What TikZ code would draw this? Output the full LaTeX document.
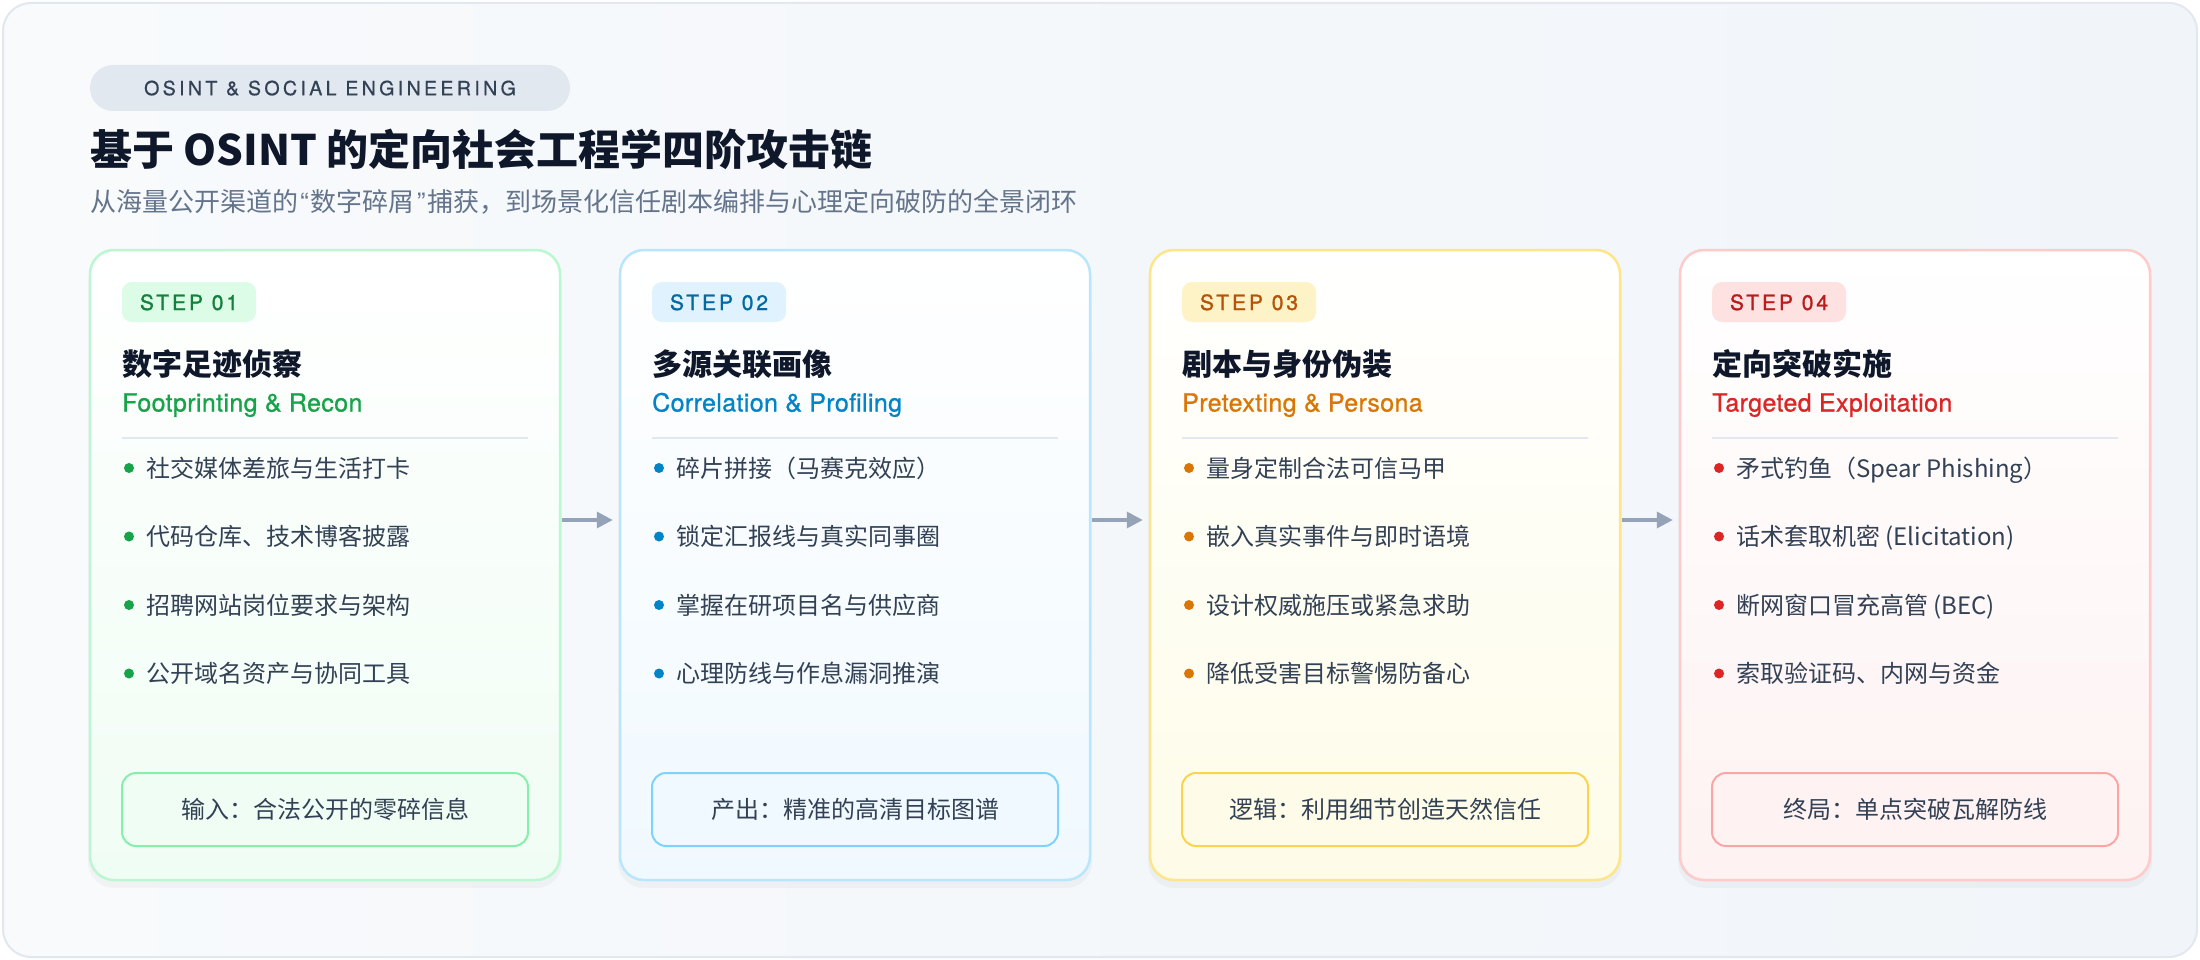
\documentclass[tikz,border=0pt]{standalone}
\usepackage{fontspec}
\setmainfont{Noto Sans CJK SC}
\newfontfamily\latinfont{TeX Gyre Heros}
\newfontfamily\pillfont{TeX Gyre Heros}[LetterSpace=17,FakeBold=0.6]
\newfontfamily\badgefont{TeX Gyre Heros}[LetterSpace=14,FakeBold=1.3]
\newfontfamily\medlatin{TeX Gyre Heros}[LetterSpace=1.5,FakeBold=0.9]
\usetikzlibrary{arrows.meta}

\definecolor{panelA}{HTML}{F8FAFC}
\definecolor{panelB}{HTML}{F1F5F9}
\definecolor{panelBorder}{HTML}{E2E8F0}
\definecolor{pillfill}{HTML}{E2E8F0}
\definecolor{pilltext}{HTML}{334155}
\definecolor{ink}{HTML}{0F172A}
\definecolor{subink}{HTML}{64748B}
\definecolor{bodyink}{HTML}{334155}
\definecolor{sepline}{HTML}{E2E8F0}
\definecolor{arrowgray}{HTML}{94A3B8}
% green
\definecolor{gBorder}{HTML}{BBF7D0}\definecolor{gBadge}{HTML}{DCFCE7}
\definecolor{gBadgeText}{HTML}{15803D}\definecolor{gAccent}{HTML}{16A34A}
\definecolor{gBox}{HTML}{86EFAC}\definecolor{gTint}{HTML}{F0FDF4}
% blue
\definecolor{bBorder}{HTML}{BAE6FD}\definecolor{bBadge}{HTML}{E0F2FE}
\definecolor{bBadgeText}{HTML}{0369A1}\definecolor{bAccent}{HTML}{0284C7}
\definecolor{bBox}{HTML}{7DD3FC}\definecolor{bTint}{HTML}{F0F9FF}
% amber
\definecolor{aBorder}{HTML}{FDE68A}\definecolor{aBadge}{HTML}{FEF3C7}
\definecolor{aBadgeText}{HTML}{B45309}\definecolor{aAccent}{HTML}{D97706}
\definecolor{aBox}{HTML}{FCD34D}\definecolor{aTint}{HTML}{FEFCE8}
% red
\definecolor{rBorder}{HTML}{FECACA}\definecolor{rBadge}{HTML}{FEE2E2}
\definecolor{rBadgeText}{HTML}{B91C1C}\definecolor{rAccent}{HTML}{DC2626}
\definecolor{rBox}{HTML}{FCA5A5}\definecolor{rTint}{HTML}{FEF2F2}

\tikzset{
  cardbox/.style={rounded corners=24pt, line width=2.5pt, minimum width=470pt,
    minimum height=630pt, inner sep=0pt, top color=white},
  badgebox/.style={rounded corners=10pt, minimum width=134pt, minimum height=40pt,
    inner sep=0pt, text height=18.5pt, text depth=2.5pt,
    font=\badgefont\fontsize{21pt}{24pt}\selectfont},
  cardtitle/.style={anchor=west, inner sep=0pt, text=ink, text height=26.4pt, text depth=3.6pt,
    font=\bfseries\fontsize{30pt}{34pt}\selectfont},
  cardsub/.style={anchor=west, inner sep=0pt, text height=22pt, text depth=3pt,
    font=\medlatin\fontsize{25pt}{29pt}\selectfont},
  bullettext/.style={anchor=west, inner sep=0pt, text=bodyink, text height=21.1pt, text depth=2.9pt,
    font=\fontsize{24pt}{28pt}\selectfont},
  outbox/.style={rounded corners=14pt, line width=2pt, minimum width=406pt, minimum height=73pt,
    inner sep=0pt, text=bodyink, text height=21.1pt, text depth=2.9pt,
    font=\fontsize{24pt}{28pt}\selectfont},
  flowarrow/.style={draw=arrowgray, line width=3.5pt,
    -{Triangle[length=16pt,width=16pt]}},
}

\newcommand\cardframe[7]{%
  % #1 name, #2 x0, #3 colour prefix, #4 step no, #5 title, #6 subtitle, #7 box text
  \fill[black, opacity=0.03, rounded corners=26pt] (#2-2,256) rectangle (#2+472,888);
  \node[cardbox, draw=#3Border, bottom color=#3Tint] (#1) at (#2+235,565) {};
  \node[badgebox, fill=#3Badge, text=#3BadgeText] (#1badge) at (#2+99,302) {STEP #4};
  \node[cardtitle] (#1title) at (#2+32,364) {#5};
  \node[cardsub, text=#3Accent] (#1sub) at (#2+32,402) {#6};
  \draw[sepline, line width=2.5pt] (#2+32,438) -- (#2+438,438);
  \node[outbox, draw=#3Box, fill=#3Tint] (#1out) at (#2+235,809.5) {#7};
}
\newcommand\bulletitem[5]{%
  % #1 name, #2 x0, #3 prefix, #4 y, #5 text
  \fill[#3Accent] (#2+39,#4) circle[radius=5];
  \node[bullettext] (#1) at (#2+56,#4) {#5};
}
\newcommand\openq{\hspace{2pt}{\latinfont “}\hspace{2pt}}
\newcommand\closeq{\hspace{2pt}{\latinfont ”}\hspace{2pt}}

\begin{document}
\begin{tikzpicture}[x=1pt,y=-1pt]
\useasboundingbox (0,0) rectangle (2200,960);
\fill[white] (0,0) rectangle (2200,960);
\shade[left color=panelA, right color=panelB, rounded corners=28pt] (3,3) rectangle (2197,957);
\draw[panelBorder, line width=2pt, rounded corners=28pt] (3,3) rectangle (2197,957);

% header
\node[fill=pillfill, rounded corners=23pt, minimum width=480pt, minimum height=46pt, inner sep=0pt,
  text=pilltext, text height=14.4pt, text depth=0pt, font=\pillfont\fontsize{19.6pt}{22pt}\selectfont]
  (pill) at (330,88) {OSINT \& SOCIAL ENGINEERING};
\node[anchor=west, inner sep=0pt, text=ink, text height=37pt, text depth=5pt,
  font=\bfseries\fontsize{42pt}{48pt}\selectfont] (maintitle) at (90,150)
  {基于 OSINT 的定向社会工程学四阶攻击链};
\node[anchor=west, inner sep=0pt, text=subink, text height=22.9pt, text depth=3.1pt,
  font=\fontsize{26pt}{30pt}\selectfont] (subtitle) at (90,202)
  {从海量公开渠道的\openq 数字碎屑\closeq 捕获，到场景化信任剧本编排与心理定向破防的全景闭环};

% card 1
\cardframe{c1}{90}{g}{01}{数字足迹侦察}{Footprinting \& Recon}{输入：合法公开的零碎信息}
\bulletitem{c1b1}{90}{g}{468}{社交媒体差旅与生活打卡}
\bulletitem{c1b2}{90}{g}{536.5}{代码仓库、技术博客披露}
\bulletitem{c1b3}{90}{g}{605}{招聘网站岗位要求与架构}
\bulletitem{c1b4}{90}{g}{673.5}{公开域名资产与协同工具}

% card 2
\cardframe{c2}{620}{b}{02}{多源关联画像}{Correlation \& Profiling}{产出：精准的高清目标图谱}
\bulletitem{c2b1}{620}{b}{468}{碎片拼接（马赛克效应）}
\bulletitem{c2b2}{620}{b}{536.5}{锁定汇报线与真实同事圈}
\bulletitem{c2b3}{620}{b}{605}{掌握在研项目名与供应商}
\bulletitem{c2b4}{620}{b}{673.5}{心理防线与作息漏洞推演}

% card 3
\cardframe{c3}{1150}{a}{03}{剧本与身份伪装}{Pretexting \& Persona}{逻辑：利用细节创造天然信任}
\bulletitem{c3b1}{1150}{a}{468}{量身定制合法可信马甲}
\bulletitem{c3b2}{1150}{a}{536.5}{嵌入真实事件与即时语境}
\bulletitem{c3b3}{1150}{a}{605}{设计权威施压或紧急求助}
\bulletitem{c3b4}{1150}{a}{673.5}{降低受害目标警惕防备心}

% card 4
\cardframe{c4}{1680}{r}{04}{定向突破实施}{Targeted Exploitation}{终局：单点突破瓦解防线}
\bulletitem{c4b1}{1680}{r}{468}{矛式钓鱼（Spear Phishing）}
\bulletitem{c4b2}{1680}{r}{536.5}{话术套取机密 (Elicitation)}
\bulletitem{c4b3}{1680}{r}{605}{断网窗口冒充高管 (BEC)}
\bulletitem{c4b4}{1680}{r}{673.5}{索取验证码、内网与资金}

% arrows
\draw[flowarrow] ([yshift=45pt,xshift=1pt]c1.east) -- ([yshift=45pt,xshift=-6pt]c2.west);
\draw[flowarrow] ([yshift=45pt,xshift=1pt]c2.east) -- ([yshift=45pt,xshift=-6pt]c3.west);
\draw[flowarrow] ([yshift=45pt,xshift=1pt]c3.east) -- ([yshift=45pt,xshift=-6pt]c4.west);
\end{tikzpicture}
\end{document}
